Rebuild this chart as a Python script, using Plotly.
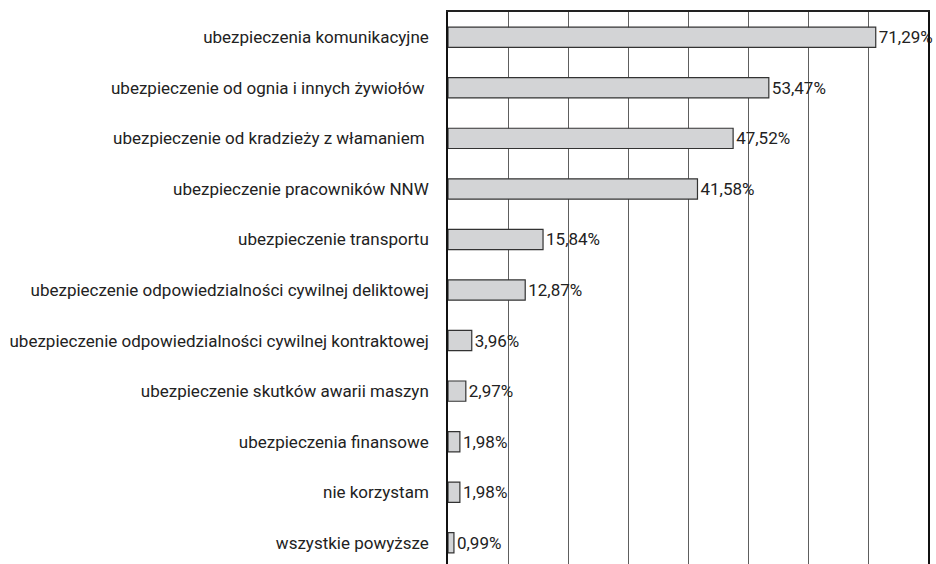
"""
Horizontal bar chart: types of insurance used (share of respondents).
"""
import plotly.graph_objects as go

categories = [
    'ubezpieczenia komunikacyjne',
    'ubezpieczenie od ognia i innych żywiołów ',
    'ubezpieczenie od kradzieży z włamaniem ',
    'ubezpieczenie pracowników NNW',
    'ubezpieczenie transportu',
    'ubezpieczenie odpowiedzialności cywilnej deliktowej',
    'ubezpieczenie odpowiedzialności cywilnej kontraktowej',
    'ubezpieczenie skutków awarii maszyn',
    'ubezpieczenia finansowe',
    'nie korzystam',
    'wszystkie powyższe',
]
values = [71.29, 53.47, 47.52, 41.58, 15.84, 12.87, 3.96, 2.97, 1.98, 1.98, 0.99]

FONT = 'Roboto'

fig = go.Figure(go.Bar(
    x=values, y=categories, orientation='h', width=0.4,
    marker=dict(color='#d3d4d6', line=dict(color='#333333', width=1.2)),
    texttemplate='%{x:.2f}%', textposition='outside',
    constraintext='none', cliponaxis=False,
    textfont=dict(family=FONT, size=17, color='#222222'),
))

fig.update_layout(
    width=936, height=564,
    margin=dict(l=448, r=8, t=12, b=0, autoexpand=False),
    plot_bgcolor='white', paper_bgcolor='white',
    separators=',.',
    showlegend=False,
    font=dict(family=FONT, size=17, color='#222222'),
    xaxis=dict(range=[0, 80], dtick=10, side='top', showticklabels=False,
               showgrid=True, gridcolor='#5e5e5e', gridwidth=1.2,
               zeroline=False, showline=True, linecolor='#222222', linewidth=1.5,
               ticks='', automargin=False),
    yaxis=dict(range=[10.42, -0.5], type='category', showgrid=False,
               showline=True, mirror=True, linecolor='#111111', linewidth=1.6,
               ticks='', ticklabelstandoff=14, automargin=False),
)

# page body has a default 8px margin; drop it so the figure sits at 0,0
fig.write_html("out.html", config={'displayModeBar': False},
               post_script="document.body.style.margin='0';")
